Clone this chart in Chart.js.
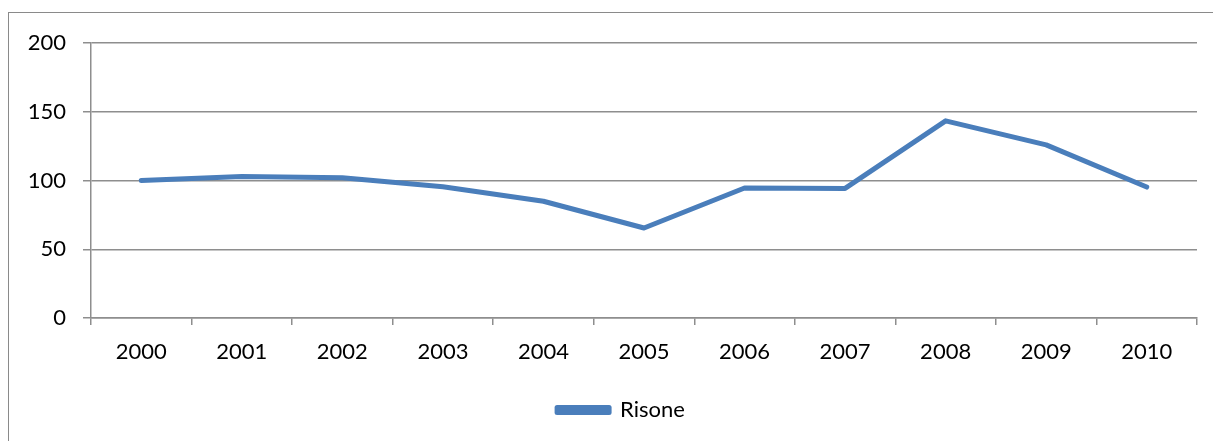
<!DOCTYPE html>
<html>
<head>
<meta charset="utf-8">
<script src="https://cdn.jsdelivr.net/npm/chart.js@4"></script>
<style>
    html, body { margin: 0; padding: 0; background: #fff; overflow: hidden; width: 1213px; height: 441px; }
    #box {
        position: absolute; left: 8px; top: 12px;
        width: 1224px; height: 440px;
        border-left: 1px solid #8a8a8a; border-top: 1px solid #8a8a8a;
    }
    #wrap { position: absolute; left: 0; top: 0; width: 1224px; height: 428px; }
</style>
</head>
<body>
<div id="box">
    <div id="wrap"><canvas id="chart"></canvas></div>
</div>
<script>
// anni e indice (2000 = 100)
const years = ['2000', '2001', '2002', '2003', '2004', '2005', '2006', '2007', '2008', '2009', '2010'];
const risone = [100, 103, 102, 95.5, 85, 65.5, 94.6, 94.3, 143.5, 126, 95.3];
const yTicks = [0, 50, 100, 150, 200];

const blue = '#4a7ebb';
const gridGrey = '#8e8e8e';
const font = { family: 'Lato', size: 22 };

// the legend is centred on the whole chart box, not on the plot
const legendShift = {
    id: 'legendShift',
    afterLayout(chart) {
        const lg = chart.legend;
        if (!lg) return;
        lg.left += 18;
        lg.right += 18;
    }
};

const ctx = document.getElementById('chart').getContext('2d');

const chart = new Chart(ctx, {
    type: 'line',
    data: {
        labels: years,
        datasets: [{
            label: 'Risone',
            data: risone,
            borderColor: blue,
            backgroundColor: blue,
            borderWidth: 5,
            borderCapStyle: 'round',
            borderJoinStyle: 'round',
            pointRadius: 0,
            tension: 0
        }]
    },
    plugins: [legendShift],
    options: {
        responsive: true,
        maintainAspectRatio: false,
        animation: false,
        layout: { padding: { top: 28, right: 36, left: 0, bottom: 10 } },
        plugins: {
            tooltip: { enabled: false },
            legend: {
                position: 'bottom',
                labels: {
                    font: font,
                    color: '#000',
                    boxWidth: 52,
                    boxHeight: 5,
                    padding: 10
                }
            }
        },
        scales: {
            x: {
                offset: true,
                afterFit: (scale) => { scale.height = 71; },
                grid: {
                    offset: true,
                    drawOnChartArea: false,
                    drawTicks: true,
                    tickLength: 7,
                    color: gridGrey,
                    lineWidth: 1.5
                },
                border: { color: gridGrey, width: 1.5 },
                ticks: { font: font, color: '#000', padding: 14, maxRotation: 0 }
            },
            y: {
                min: 0,
                max: 200,
                afterFit: (scale) => { scale.width = 82; },
                afterBuildTicks: (scale) => { scale.ticks = yTicks.map(v => ({ value: v })); },
                grid: {
                    color: gridGrey,
                    lineWidth: 1.5,
                    tickLength: 8
                },
                border: { color: gridGrey, width: 1.5 },
                ticks: { font: font, color: '#000', padding: 17 }
            }
        }
    }
});
</script>
</body>
</html>
